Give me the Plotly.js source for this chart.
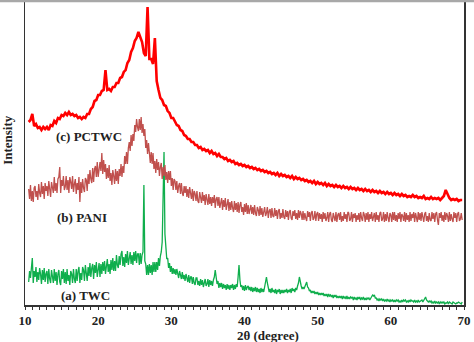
<!DOCTYPE html>
<html>
<head>
<meta charset="utf-8">
<script src="https://cdn.plot.ly/plotly-3.0.1.min.js"></script>
<style>html,body{margin:0;padding:0;background:#fff;}#chart{width:474px;height:342px;}</style>
</head>
<body>
<div id="chart"></div>
<script>
// 2-theta sampling: start (deg) and step (deg) per series
const thetaStart = 10.5;
const stepPctwc = 0.25;   // PCTWC read every 0.25 deg
const stepFine = 0.125;   // PANI and TWC read every 0.125 deg

// (c) PCTWC intensities (a.u.), 20 points per 5 degrees
const pctwc = [
  182,184,190,178,180,176,177,174,177,175,177,174,179,178,183,181,186,185,189,188,
  191,189,192,189,190,188,189,186,187,185,187,186,190,190,195,197,203,204,209,209,
  213,214,234,214,215,213,217,217,221,221,226,227,232,234,241,244,252,256,263,266,
  272,267,262,251,248,297,245,245,240,266,223,214,206,204,199,198,193,191,186,186,
  183,179,178,174,173,169,168,165,165,162,162,159,159,156,157,154,155,153,154,151,
  153,150,151,148,150,147,147,145,146,143,144,142,143,140,141,139,140,138,139,137,
  138,136,137,135,136,134,135,133,134,132,133,131,132,130,131,129,131,128,130,128,
  129,127,128,126,128,125,127,125,126,124,125,123,124,122,123,121,123,120,122,120,
  121,119,121,118,120,118,119,117,119,117,118,116,118,116,117,115,117,115,116,114,
  116,114,115,113,115,113,114,112,114,112,113,111,113,111,112,110,112,110,111,109,
  111,109,110,108,110,108,109,107,108,107,109,107,108,106,107,106,108,105,106,105,
  107,105,106,105,106,104,106,108,114,110,106,104,105,104,105,103,104,104
];

// (b) PANI intensities (a.u.), 40 points per 5 degrees
const pani = [
  115,105,119,103,113,102,116,118,107,113,104,120,111,107,122,110,118,105,121,113,118,108,123,111,107,122,118,111,127,113,121,111,125,127,137,111,124,118,128,114,
  117,128,114,124,111,127,122,115,128,112,120,125,110,121,114,127,102,122,111,125,116,112,126,124,113,130,120,134,125,121,136,122,135,138,127,142,127,137,142,133,
  151,130,144,132,140,125,136,126,139,123,131,119,134,128,120,135,123,133,120,135,128,140,127,138,131,148,140,152,140,156,162,153,169,158,170,163,179,172,185,177,
  173,185,174,187,171,180,168,175,156,164,150,161,149,141,152,140,151,135,143,131,145,134,142,128,137,141,125,137,128,139,124,132,121,133,124,133,118,126,114,125,
  123,114,123,111,118,121,110,121,111,108,118,111,118,107,115,106,117,110,105,115,103,113,110,103,113,103,101,112,107,101,112,103,109,99,110,103,99,110,100,107,
  98,107,101,109,96,105,107,98,107,96,100,106,94,104,97,106,94,101,105,93,102,94,103,96,92,103,94,101,92,102,91,99,102,92,97,89,100,92,101,90,
  99,90,96,99,90,97,89,99,91,88,97,94,88,98,89,96,87,95,97,88,91,97,86,93,95,86,96,88,87,96,88,94,85,93,95,85,91,86,95,87,
  85,94,87,93,84,92,94,86,84,93,88,94,85,91,84,94,86,93,90,84,93,84,91,86,83,93,87,92,83,91,93,84,86,93,83,90,92,83,91,85,
  90,82,92,85,91,83,86,92,82,90,92,84,82,91,88,83,92,82,89,91,84,92,82,88,83,92,85,90,82,92,91,83,85,92,82,90,86,91,82,89,
  84,91,82,92,86,83,92,89,82,91,84,92,82,90,85,92,83,88,91,82,92,84,89,82,91,92,83,85,92,82,90,83,92,86,82,91,89,82,92,84,
  92,83,89,82,91,85,92,82,90,88,83,92,82,91,84,89,82,92,83,90,86,92,82,91,85,82,92,84,91,83,92,85,82,90,92,83,88,82,91,84,
  83,92,85,91,82,90,92,84,79,91,86,92,83,89,82,92,84,91,88,82,92,83,90,85,82,92,86,91,82,90,92,83,85,91,84
];

// (a) TWC intensities (a.u.), 40 points per 5 degrees
const twc = [
  22,33,26,36,46,21,33,27,37,22,32,24,36,30,20,34,24,36,22,30,33,20,35,25,21,34,29,21,35,23,32,19,30,34,22,19,33,25,35,21,
  32,20,35,23,29,19,33,30,21,35,25,21,35,23,33,37,21,31,24,37,34,23,39,29,23,37,28,41,27,36,40,25,39,31,42,27,37,41,27,40,
  30,42,33,43,30,41,45,32,40,30,44,34,46,33,43,33,49,39,36,48,39,50,53,38,47,37,50,41,53,39,44,52,40,49,39,52,43,53,41,50,
  50,39,51,40,49,52,119,43,40,29,39,29,40,31,39,29,42,32,42,32,42,34,46,38,48,52,62,104,152,70,55,45,46,36,41,32,38,30,36,30,
  35,29,35,29,26,33,30,25,32,25,29,23,30,27,22,29,21,27,27,20,27,21,19,26,26,19,23,18,25,19,24,17,23,25,18,20,25,17,24,19,
  23,18,24,27,34,28,20,23,16,21,17,21,15,20,16,19,14,20,15,19,14,19,16,20,14,19,15,20,17,27,39,24,17,19,14,18,13,19,14,17,
  18,14,17,13,17,12,16,13,17,12,16,12,15,11,16,12,15,12,16,20,27,21,15,12,15,11,16,12,14,11,15,10,14,12,15,10,14,11,14,11,
  14,12,15,11,14,12,15,11,16,13,15,12,16,14,18,21,27,20,18,15,17,15,18,19,22,17,16,13,14,11,13,11,13,10,12,10,12,9,11,9,
  11,9,11,8,10,8,10,7,10,8,9,7,9,6,9,7,9,6,8,6,8,6,8,5,8,6,7,5,8,5,7,5,7,6,7,4,7,5,6,4,
  7,5,7,4,6,5,7,4,6,4,6,5,6,4,6,7,9,8,9,6,6,4,5,3,5,4,5,3,5,3,4,3,5,3,4,2,4,3,4,2,
  4,2,4,3,4,2,3,2,4,2,4,3,4,2,3,2,4,2,4,3,3,2,4,2,3,2,4,2,3,3,4,2,4,5,7,4,3,2,3,2,
  3,1,2,1,3,1,2,1,2,0,2,1,2,1,2,0,1,1,2,0,2,1,1,0,2,1,1,0,1,1,2,1,1,0,2
];

const seriesNames = ['(a) TWC', '(b) PANI', '(c) PCTWC'];
const seriesColors = ['#0fae4c', '#c0504d', '#ff0000'];
const seriesWidths = [1.3, 1.3, 2.6];
const labelX = [18.3, 17.8, 18.7];
const labelY = [9, 87, 167.5];
const xTickVals = [10, 20, 30, 40, 50, 60, 70];

const grid = (vals, step) => vals.map((_, i) => thetaStart + step * i);
const seriesData = [
  {x: grid(twc, stepFine), y: twc},
  {x: grid(pani, stepFine), y: pani},
  {x: grid(pctwc, stepPctwc), y: pctwc}
];

const serif = 'Liberation Serif, Times New Roman, serif';
const traces = seriesData.map((d, k) => ({
  type: 'scatter', mode: 'lines', x: d.x, y: d.y, name: seriesNames[k],
  line: {color: seriesColors[k], width: seriesWidths[k]},
  hoverinfo: 'skip'
}));

const annotations = seriesNames.map((t, k) => ({
  x: labelX[k], y: labelY[k], xref: 'x', yref: 'y', text: t, showarrow: false,
  font: {family: serif, size: 13, color: '#222', weight: 'bold'}
}));
annotations.push({
  x: 0.553, y: -0.1, xref: 'paper', yref: 'paper', text: '2θ (degree)', showarrow: false,
  xanchor: 'center', yanchor: 'middle',
  font: {family: serif, size: 13, color: '#222', weight: 'bold'}
});
annotations.push({
  x: -0.039, y: 0.543, xref: 'paper', yref: 'paper', text: 'Intensity', showarrow: false,
  textangle: -90, xanchor: 'center', yanchor: 'middle',
  font: {family: serif, size: 13, color: '#222', weight: 'bold'}
});

const layout = {
  width: 474, height: 342,
  margin: {l: 25, r: 10, t: 1, b: 37},
  paper_bgcolor: '#fff', plot_bgcolor: '#fff',
  showlegend: false,
  xaxis: {
    range: [10, 70], showgrid: false, zeroline: false,
    showline: true, linecolor: '#333', linewidth: 1.5,
    ticks: 'outside', ticklen: 3, tickwidth: 1, tickcolor: '#333',
    tickvals: xTickVals,
    minor: {ticks: 'outside', dtick: 1, tick0: 10, ticklen: 3, tickwidth: 1, tickcolor: '#333'},
    tickfont: {family: serif, size: 13, color: '#222', weight: 'bold'}
  },
  yaxis: {
    range: [-1, 303], showgrid: false, zeroline: false,
    showline: true, mirror: true, linecolor: '#333', linewidth: 1.5,
    showticklabels: false, ticks: ''
  },
  shapes: [{
    type: 'line', xref: 'paper', yref: 'paper', x0: -0.06, x1: 1.03, y0: 1.0, y1: 1.0,
    line: {color: '#a8a8a8', width: 2.5}
  }],
  annotations: annotations
};

Plotly.newPlot('chart', traces, layout, {displayModeBar: false, staticPlot: true});
</script>
</body>
</html>
